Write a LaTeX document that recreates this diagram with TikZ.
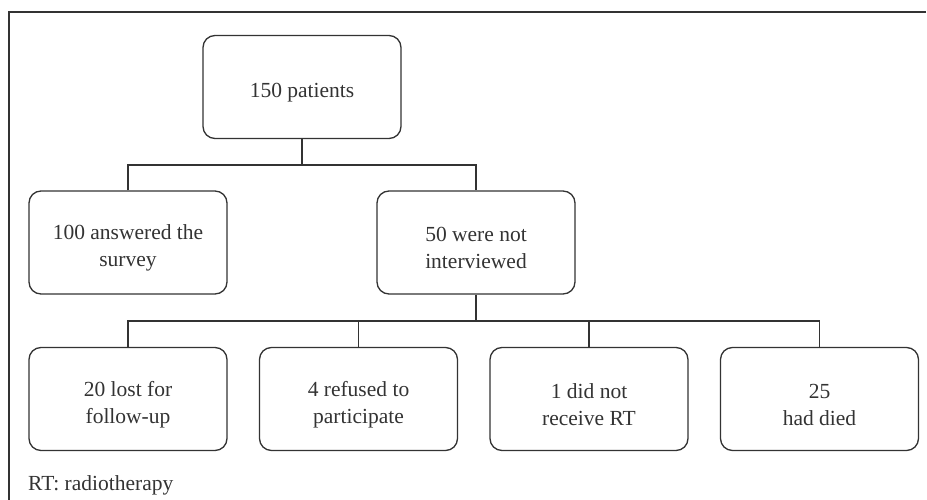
\documentclass[tikz,border=0pt]{standalone}
\usepackage{fontspec}
\setmainfont{Liberation Serif}
\definecolor{ink}{HTML}{333333}
\begin{document}
\begin{tikzpicture}[x=1pt,y=-1pt,
  box/.style={draw=ink, line width=1.3pt, rounded corners=12pt, minimum width=198pt, minimum height=103pt, inner sep=0pt},
  boxtext/.style={align=center, font=\fontsize{21.5}{27}\selectfont, text=ink, inner sep=0pt, yshift=-5.5pt},
  conn/.style={draw=ink, line width=1.3pt}]
\useasboundingbox (0,0) rectangle (927,500);
\draw[conn] (926,12) -- (9,12) -- (9,500);
\node[box, label={[boxtext]center:{150 patients}}] (top) at (302,87) {};
\node[box, label={[boxtext]center:{100 answered the\\survey}}] (ans) at (128,242.5) {};
\node[box, label={[boxtext]center:{50 were not\\interviewed}}] (not) at (476,242.5) {};
\node[box, label={[boxtext]center:{20 lost for\\follow-up}}] (lost) at (128,399) {};
\node[box, label={[boxtext]center:{4 refused to\\participate}}] (ref) at (358.5,399) {};
\node[box, label={[boxtext]center:{1 did not\\receive RT}}] (rt) at (589,399) {};
\node[box, label={[boxtext]center:{25\\had died}}] (died) at (819.5,399) {};
\node[anchor=base west, font=\fontsize{21.5}{27}\selectfont, text=ink, inner sep=0pt] (note) at (28,490) {RT: radiotherapy};
\coordinate (j1) at (302,165);
\coordinate (j2) at (476,321);
\draw[conn] (top.south) -- (j1);
\draw[conn] (ans.north) |- (j1) -| (not.north);
\draw[conn] (not.south) -- (j2);
\draw[conn] (lost.north) |- (j2) -| (died.north);
\draw[conn] (ref.north) -- (ref.north |- j2);
\draw[conn] (rt.north) -- (rt.north |- j2);
\end{tikzpicture}
\end{document}
